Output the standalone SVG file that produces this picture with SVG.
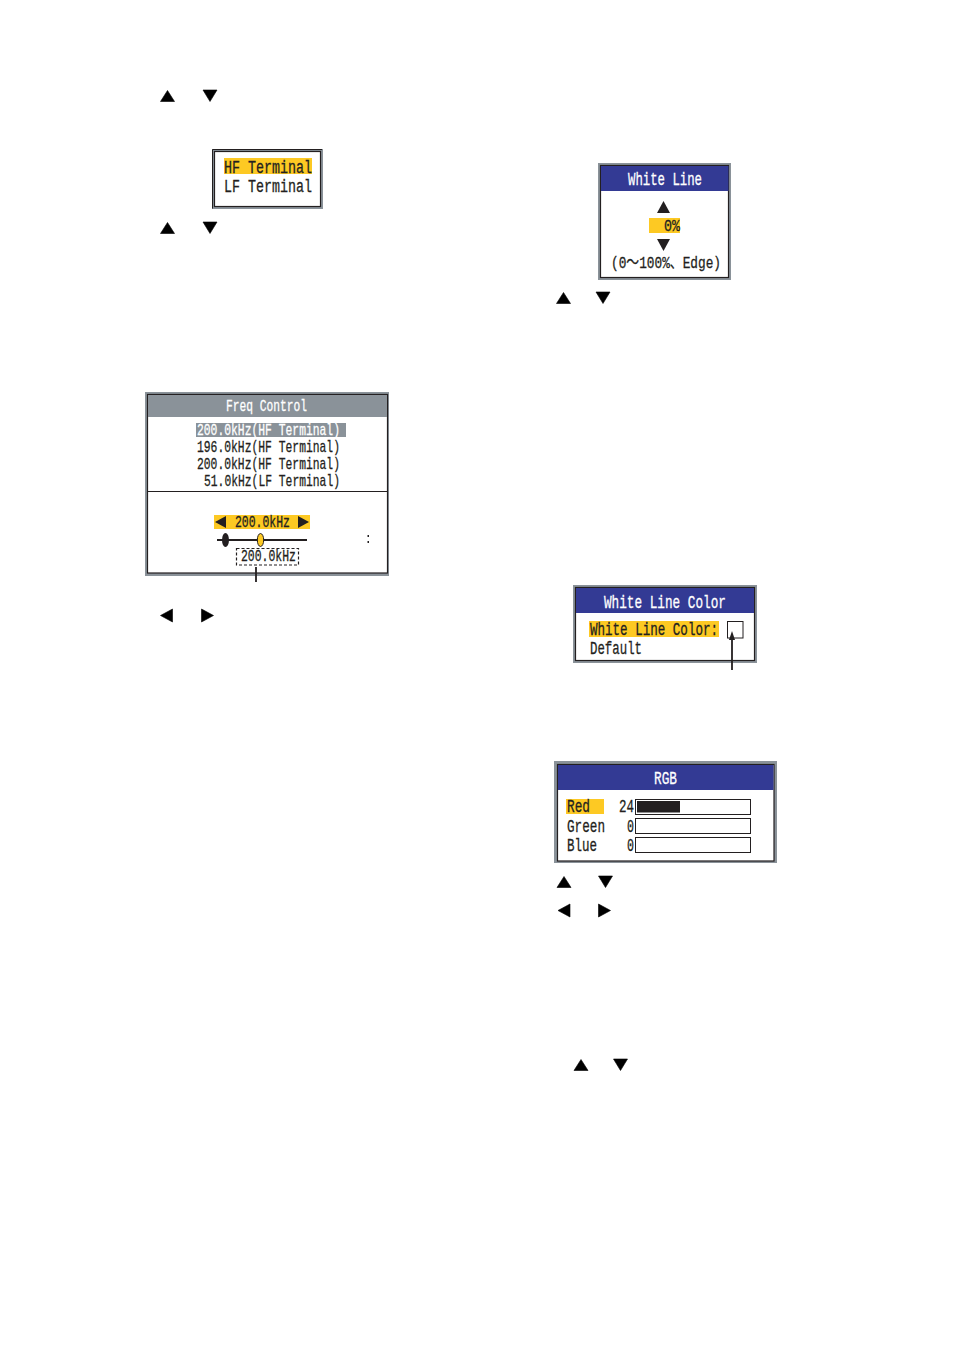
<svg xmlns="http://www.w3.org/2000/svg" width="954" height="1350" viewBox="0 0 954 1350">
<style>
.t{font-family:"Liberation Mono","DejaVu Sans Mono",monospace;font-size:17px;fill:#231f20;stroke:#231f20;stroke-width:.3}
.f{font-size:19px}
.w{fill:#fff;stroke:#fff}
.o{fill:#8a9299}
.i{fill:#fff;stroke:#231f20;stroke-width:1.2}
.y{fill:#fdc923}
.b{fill:#333a94}
.k{fill:#231f20}
.a{fill:#000;stroke:#000;stroke-width:.6}
.l{stroke:#231f20;stroke-width:1.8;fill:none}
</style>
<rect width="954" height="1350" fill="#fff"/>
<g id="keys">
<polygon class="a" points="160.500,101.500 167.500,90.500 174.500,101.500"/><polygon class="a" points="203,90 217,90 210,101.500"/>
<polygon class="a" points="160.500,233.500 167.500,222.500 174.500,233.500"/><polygon class="a" points="203,222 217,222 210,233.500"/>
<polygon class="a" points="160.500,615.500 172.500,609 172.500,622"/><polygon class="a" points="201.500,609 213.500,615.500 201.500,622"/>
<polygon class="a" points="556.500,303.500 563.500,292.500 570.500,303.500"/><polygon class="a" points="596,292 610,292 603,303.500"/>
<polygon class="a" points="557,887.500 564,876.500 571,887.500"/><polygon class="a" points="598.500,876 612.500,876 605.500,887.500"/>
<polygon class="a" points="558,910.500 570,904 570,917"/><polygon class="a" points="598.500,904 610.500,910.500 598.500,917"/>
<polygon class="a" points="574,1070.500 581,1059.500 588,1070.500"/><polygon class="a" points="613.500,1059 627.500,1059 620.500,1070.500"/>
</g>
<g id="terminal-menu">
<rect class="o" x="212" y="149" width="111" height="60"/>
<rect class="i" x="214.500" y="151.500" width="106" height="55"/>
<path d="M212.500 208.500V149.500H322" fill="none" stroke="#231f20"/>
<rect class="y" x="224" y="158" width="88" height="16"/>
<text class="t f" x="224" y="172.500" textLength="88" lengthAdjust="spacingAndGlyphs">HF Terminal</text>
<text class="t f" x="224" y="192" textLength="88" lengthAdjust="spacingAndGlyphs">LF Terminal</text>
</g>
<g id="freq-control">
<rect class="o" x="145" y="392" width="244" height="184"/>
<rect class="i" x="147.500" y="394.500" width="240" height="178.500"/>
<rect class="o" x="148" y="395" width="239" height="22"/>
<text class="t w" x="226" y="411" textLength="81" lengthAdjust="spacingAndGlyphs">Freq Control</text>
<rect class="o" x="196" y="423" width="150" height="14"/>
<text class="t w" x="197" y="435" textLength="143" lengthAdjust="spacingAndGlyphs">200.0kHz(HF Terminal)</text>
<text class="t" x="197" y="452" textLength="143" lengthAdjust="spacingAndGlyphs">196.0kHz(HF Terminal)</text>
<text class="t" x="197" y="469" textLength="143" lengthAdjust="spacingAndGlyphs">200.0kHz(HF Terminal)</text>
<text class="t" x="204" y="486" textLength="136" lengthAdjust="spacingAndGlyphs">51.0kHz(LF Terminal)</text>
<line x1="148" y1="491.500" x2="387" y2="491.500" stroke="#231f20"/>
<rect class="y" x="214" y="515" width="96" height="14"/>
<polygon class="k" points="215,522 226,516 226,528"/><polygon class="k" points="298,516 309,522 298,528"/>
<text class="t" x="235" y="527" textLength="55" lengthAdjust="spacingAndGlyphs">200.0kHz</text>
<line class="l" x1="217" y1="540" x2="307" y2="540"/>
<ellipse class="k" cx="225.500" cy="540" rx="3.500" ry="7"/>
<ellipse class="y" cx="260.500" cy="540" rx="3.200" ry="6.500" stroke="#231f20"/>
<rect class="k" x="367.500" y="535" width="1.500" height="2"/><rect class="k" x="367.500" y="541" width="1.500" height="2"/>
<rect x="236.500" y="548.500" width="62" height="16.500" fill="#fff" stroke="#231f20" stroke-width="1.200" stroke-dasharray="3 2"/>
<text class="t" x="241" y="561" textLength="55" lengthAdjust="spacingAndGlyphs">200.0kHz</text>
<line class="l" x1="256" y1="567" x2="256" y2="582"/>
</g>
<g id="white-line">
<rect class="o" x="598" y="163" width="133" height="117"/>
<rect class="i" x="600.500" y="165.500" width="128" height="112"/>
<rect class="b" x="601" y="166" width="127.500" height="25"/>
<text class="t f w" x="628" y="185" textLength="74" lengthAdjust="spacingAndGlyphs">White Line</text>
<polygon class="k" points="657,213 663.500,201 670,213"/>
<rect class="y" x="649" y="218" width="31" height="15"/>
<text class="t" x="664" y="231" textLength="16" lengthAdjust="spacingAndGlyphs">0%</text>
<polygon class="k" points="657,239 670,239 663.500,251"/>
<text class="t" x="611" y="268" textLength="110" lengthAdjust="spacingAndGlyphs" style="font-family:'Liberation Mono','Noto Sans CJK JP',monospace">(0～100%、Edge)</text>
</g>
<g id="white-line-color">
<rect class="o" x="573" y="585" width="184" height="78"/>
<rect class="i" x="575.500" y="587.500" width="179" height="73"/>
<rect class="b" x="576" y="588" width="178" height="25"/>
<text class="t f w" x="604" y="607.500" textLength="122" lengthAdjust="spacingAndGlyphs">White Line Color</text>
<rect class="y" x="589" y="621" width="130" height="16"/>
<text class="t f" x="590" y="634.500" textLength="128" lengthAdjust="spacingAndGlyphs">White Line Color:</text>
<text class="t f" x="590" y="653.500" textLength="52" lengthAdjust="spacingAndGlyphs">Default</text>
<rect x="727.500" y="621.500" width="15.500" height="16.500" fill="#fff" stroke="#231f20"/>
<line class="l" x1="732" y1="670" x2="732" y2="636"/>
<polygon class="k" points="732,631 735,640 729,640"/>
</g>
<g id="rgb">
<rect class="o" x="554" y="761" width="223" height="102"/>
<rect class="i" x="557.500" y="764.500" width="216.500" height="96.500"/>
<rect class="b" x="558" y="765" width="215.500" height="25"/>
<text class="t f w" x="654" y="783.500" textLength="23" lengthAdjust="spacingAndGlyphs">RGB</text>
<rect class="y" x="566" y="799" width="38" height="15"/>
<text class="t f" x="567" y="812" textLength="23" lengthAdjust="spacingAndGlyphs">Red</text>
<text class="t f" x="567" y="832" textLength="38" lengthAdjust="spacingAndGlyphs">Green</text>
<text class="t f" x="567" y="851" textLength="30" lengthAdjust="spacingAndGlyphs">Blue</text>
<text class="t f" x="619" y="812" textLength="15" lengthAdjust="spacingAndGlyphs">24</text>
<text class="t f" x="627" y="832" textLength="7" lengthAdjust="spacingAndGlyphs">0</text>
<text class="t f" x="627" y="851" textLength="7" lengthAdjust="spacingAndGlyphs">0</text>
<rect x="635.500" y="799.500" width="115" height="15" fill="#fff" stroke="#231f20"/>
<rect x="635.500" y="818.500" width="115" height="15" fill="#fff" stroke="#231f20"/>
<rect x="635.500" y="837.500" width="115" height="15" fill="#fff" stroke="#231f20"/>
<rect class="k" x="637" y="801" width="43" height="11.500"/>
</g>
</svg>
